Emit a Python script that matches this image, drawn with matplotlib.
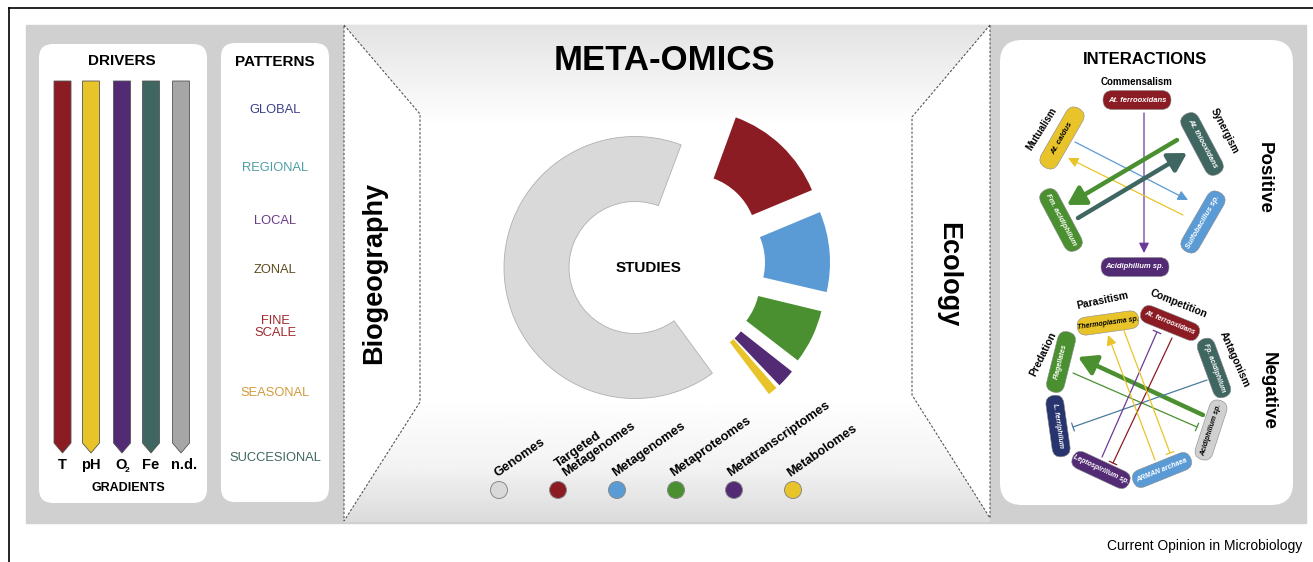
import numpy as np
import matplotlib
matplotlib.use('Agg')
import matplotlib.pyplot as plt
from matplotlib.patches import Rectangle, FancyBboxPatch, Polygon, Wedge, Circle, FancyArrowPatch
from matplotlib.transforms import Affine2D

plt.rcParams['font.family'] = ['Liberation Sans', 'DejaVu Sans']

### DATA
# meta-omics studies (share of studies, %)
omics = ['Genomes', 'Targeted\nMetagenomes', 'Metagenomes', 'Metaproteomes',
         'Metatranscriptomes', 'Metabolomes']
studies = [67.0, 13.4, 10.1, 6.8, 2.3, 1.2]
omicsColors = ['#d9d9d9', '#8b1c23', '#5b9bd5', '#4a9030', '#532a74', '#e8c42a']

drivers = ['T', 'pH', 'O', 'Fe', 'n.d.']
driverColors = ['#8b1c23', '#e8c42a', '#532a74', '#3f6660', '#a6a6a6']

patterns = ['GLOBAL', 'REGIONAL', 'LOCAL', 'ZONAL', 'FINE\nSCALE', 'SEASONAL', 'SUCCESIONAL']
patternColors = ['#3b3f8c', '#4f9ea5', '#6a3a8a', '#5c4a1a', '#a0282e', '#d39a3a', '#3f6660']

# interaction networks: node name, colour, text colour
posNodes = ['At. ferrooxidans', 'At. thiooxidans', 'Sulfobacillus sp.',
            'Acidiphilium sp.', 'Fm. acidiphilum', 'At. caldus']
posNodeColors = ['#8b1c23', '#3f6660', '#5b9bd5', '#532a74', '#4a9030', '#e8c42a']
posTextColors = ['white', 'white', 'white', 'white', 'white', 'black']
posLabels = ['Commensalism', 'Synergism', 'Mutualism']
# (source, target, colour, kind)
posEdges = [('At. ferrooxidans', 'Acidiphilium sp.', '#6a3a9a', 'arrow'),
            ('At. caldus', 'Sulfobacillus sp.', '#5b9bd5', 'arrow'),
            ('Sulfobacillus sp.', 'At. caldus', '#e8c42a', 'arrow'),
            ('At. thiooxidans', 'Fm. acidiphilum', '#4a9030', 'thick'),
            ('Fm. acidiphilum', 'At. thiooxidans', '#3f6660', 'thick')]

negNodes = ['Thermoplasma sp.', 'At. ferrooxidans', 'Fp. acidiphilum', 'Acidiphilium sp.',
            'ARMAN archaea', 'Leptospirillum sp.', 'L. ferriphilum', 'Flagellates']
negNodeColors = ['#e8c42a', '#8b1c23', '#3f6660', '#d0d0d0',
                 '#5b9bd5', '#532a74', '#27346e', '#4a9030']
negTextColors = ['black', 'white', 'white', 'black', 'white', 'white', 'white', 'white']
negLabels = ['Parasitism', 'Competition', 'Antagonism', 'Predation']
negEdges = [('Acidiphilium sp.', 'Flagellates', '#4a9030', 'thick'),
            ('Flagellates', 'Acidiphilium sp.', '#4a9030', 'bar'),
            ('Fp. acidiphilum', 'L. ferriphilum', '#4a7c9a', 'bar'),
            ('Leptospirillum sp.', 'At. ferrooxidans', '#6a3a9a', 'bar'),
            ('At. ferrooxidans', 'Leptospirillum sp.', '#8b1c23', 'bar'),
            ('ARMAN archaea', 'Thermoplasma sp.', '#e8c42a', 'arrow'),
            ('Thermoplasma sp.', 'ARMAN archaea', '#e8c42a', 'bar')]

### LAYOUT (pixel coordinates, y down)
donutCenter = (635, 267.5)
rIn, rOut = 66, 131
startAngle = 70          # first coloured wedge starts here, going clockwise
degPerUnit = 3.535
gapAfter = [1.0, 0.0, 0.5, 0.6, 2.4, 0.8]  # gap after each wedge
shift = [(0, 0), (56, 27), (64, 5), (59, -13), (54, -23), (55, -22)]
legendX = [499, 558, 617, 676, 734, 793]
labelDx = [-2, 7, -2, -3, -4, -3]

driverX = [62.5, 91, 122, 151, 181]
patternY = [110, 168, 221, 270, 327, 393, 458]

posXY = [(1137, 100), (1202, 144), (1203, 222), (1135, 267), (1061, 220), (1062, 138)]
posRot = [0, -62, 60, 0, -62, 60]
posLabelXY = [(1137, 82, 0), (1224, 131, -63), (1042, 129, 58)]
posEdgeXY = [((1144, 113), (1144, 253)), ((1075, 142), (1188, 200)),
             ((1183, 215), (1068, 158)), ((1177, 140), (1067, 205)),
             ((1078, 218), (1187, 153))]

negXY = [(1108, 323), (1170, 323), (1214, 368), (1211, 430),
         (1162, 470), (1101, 470), (1058, 426), (1061, 362)]
negRot = [8, -22, -70, 72, 22, -25, -82, 76]
negLabelXY = [(1102, 301, 12), (1179, 304, -22), (1235, 359, -66), (1043, 354, 64)]
negEdgeXY = [((1203, 415), (1078, 357)), ((1073, 373), (1197, 427)),
             ((1207, 380), (1073, 427)), ((1102, 457), (1157, 332)),
             ((1172, 338), (1113, 463)), ((1155, 460), (1108, 335)),
             ((1123, 328), (1170, 453))]

### FIGURE
fig = plt.figure(figsize=(13.13, 5.62), dpi=100)
ax = fig.add_axes([0, 0, 1, 1])
ax.set_xlim(0, 1313)
ax.set_ylim(562, 0)
ax.axis('off')

# frame lines
ax.plot([9, 9], [8, 562], color='black', lw=1.2)
ax.plot([9, 1313], [8, 8], color='black', lw=1.2)

# grey background
ax.add_patch(Rectangle((26, 25), 1280, 498, color='#d0d0d0', zorder=0))

def rbox(x0, y0, x1, y1, r=14):
    ax.add_patch(FancyBboxPatch((x0, y0), x1 - x0, y1 - y0,
                                boxstyle=f'round,pad=0,rounding_size={r}',
                                fc='white', ec='none', zorder=1))

rbox(39, 44, 207, 503)
rbox(221, 43, 329, 502)
rbox(1000, 40, 1293, 505, r=22)

# centre panel gradient
yy = np.linspace(25, 522, 200)
prof = np.interp(yy, [25, 60, 125, 400, 470, 522], [0.89, 0.93, 1.0, 1.0, 0.95, 0.86])
grad = np.repeat(prof[:, None], 2, axis=1)
ax.imshow(grad, extent=(344, 990, 522, 25), cmap='gray', vmin=0, vmax=1,
          aspect='auto', origin='upper', zorder=1, interpolation='bilinear')
ax.set_xlim(0, 1313)
ax.set_ylim(562, 0)

dash = (0, (2.2, 1.6))
ax.add_patch(Polygon([(344, 25), (420, 114), (420, 402), (344, 521)], closed=True,
                     fc='white', ec='#555555', lw=0.8, ls=dash, zorder=2))
ax.add_patch(Polygon([(990, 25), (912, 117), (912, 395), (990, 518)], closed=True,
                     fc='white', ec='#555555', lw=0.8, ls=dash, zorder=2))

ax.text(664, 60, 'META-OMICS', fontsize=25, fontweight='bold', ha='center', va='center', zorder=5)
ax.text(374, 273, 'Biogeography', fontsize=19.5, fontweight='bold', rotation=90,
        ha='center', va='center', zorder=5)
ax.text(948, 275, 'Ecology', fontsize=19.5, fontweight='bold', rotation=-90,
        ha='center', va='center', zorder=5)

# donut
order = [1, 2, 3, 4, 5, 0]
ang = startAngle
for i in order:
    span = studies[i] * degPerUnit
    a_hi, a_lo = ang, ang - span
    ang = a_lo - gapAfter[i]
    cx = donutCenter[0] + shift[i][0]
    cy = donutCenter[1] - shift[i][1]
    ec = '#b0b0b0' if i == 0 else 'none'
    ax.add_patch(Wedge((cx, cy), rOut, -a_hi, -a_lo, width=rOut - rIn,
                       fc=omicsColors[i], ec=ec, lw=0.6, zorder=3))
ax.text(649, 268, 'STUDIES', fontsize=11, fontweight='bold', ha='center', va='center', zorder=5)

# legend
for i, lab in enumerate(omics):
    ax.add_patch(Circle((legendX[i], 490), 8.5, fc=omicsColors[i], ec='#8a8a8a', lw=0.7, zorder=4))
    ax.text(legendX[i] + labelDx[i], 477, lab, fontsize=9.3, fontweight='bold', rotation=35,
            rotation_mode='anchor', ha='left', va='baseline', linespacing=1.0, zorder=5)

# drivers
ax.text(122, 61, 'DRIVERS', fontsize=11, fontweight='bold', ha='center', va='center', zorder=5)
for i, d in enumerate(drivers):
    x0, x1 = driverX[i] - 8.5, driverX[i] + 8.5
    ax.add_patch(Polygon([(x0, 81), (x1, 81), (x1, 443), (driverX[i], 453), (x0, 443)],
                         closed=True, fc=driverColors[i], ec='#555555', lw=0.6, zorder=3))
    lx = driverX[i] + (3 if d == 'n.d.' else 0)
    if d == 'O':
        ax.text(lx - 1, 465, d, fontsize=10.5, fontweight='bold', ha='center', va='center', zorder=5)
        ax.text(lx + 5.5, 470, '2', fontsize=6, fontweight='bold', ha='center', va='center', zorder=5)
    else:
        ax.text(lx, 465, d, fontsize=10.5, fontweight='bold', ha='center', va='center', zorder=5)
ax.text(128, 488, 'GRADIENTS', fontsize=9, fontweight='bold', ha='center', va='center', zorder=5)

# patterns
ax.text(275, 62, 'PATTERNS', fontsize=11, fontweight='bold', ha='center', va='center', zorder=5)
for i, p in enumerate(patterns):
    ax.text(275, patternY[i], p, fontsize=9.3, color=patternColors[i], ha='center',
            va='center', linespacing=1.1, zorder=5)

# interactions
ax.text(1145, 59, 'INTERACTIONS', fontsize=12, fontweight='bold', ha='center', va='center', zorder=5)
ax.text(1264, 178, 'Positive', fontsize=13.5, fontweight='bold', rotation=-90,
        ha='center', va='center', zorder=5)
ax.text(1268, 391, 'Negative', fontsize=13.5, fontweight='bold', rotation=-90,
        ha='center', va='center', zorder=5)

def pill(cx, cy, rot, w, h, fc, name, tc, fs):
    p = FancyBboxPatch((cx - w / 2, cy - h / 2), w, h,
                       boxstyle=f'round,pad=0,rounding_size={h / 2}',
                       fc=fc, ec='#888888', lw=0.4, zorder=4)
    p.set_transform(Affine2D().rotate_deg_around(cx, cy, -rot) + ax.transData)
    ax.add_patch(p)
    ax.text(cx, cy, name, fontsize=fs, fontweight='bold', style='italic', color=tc,
            rotation=rot, rotation_mode='anchor', ha='center', va='center', zorder=5)

def edge(p0, p1, col, kind):
    if kind == 'thick':
        st, lw, ms = '-|>,head_length=0.6,head_width=0.35', 3.2, 18
    elif kind == 'arrow':
        st, lw, ms = '-|>,head_length=0.5,head_width=0.25', 0.9, 12
    else:
        st, lw, ms = '-[,widthB=0.3,lengthB=0', 0.9, 10
    ax.add_patch(FancyArrowPatch(p0, p1, arrowstyle=st, color=col, lw=lw,
                                 mutation_scale=ms, shrinkA=0, shrinkB=0, zorder=6))

for i, n in enumerate(posNodes):
    pill(posXY[i][0], posXY[i][1], posRot[i], 68, 19, posNodeColors[i], n, posTextColors[i], 5.5)
for (x, y, r), lab in zip(posLabelXY, posLabels):
    ax.text(x, y, lab, fontsize=7, fontweight='bold', rotation=r, rotation_mode='anchor',
            ha='center', va='center', zorder=5)
for (s, t, c, k), (p0, p1) in zip(posEdges, posEdgeXY):
    edge(p0, p1, c, k)

for i, n in enumerate(negNodes):
    pill(negXY[i][0], negXY[i][1], negRot[i], 62, 18, negNodeColors[i], n, negTextColors[i], 5)
for (x, y, r), lab in zip(negLabelXY, negLabels):
    ax.text(x, y, lab, fontsize=7.5, fontweight='bold', rotation=r, rotation_mode='anchor',
            ha='center', va='center', zorder=5)
for (s, t, c, k), (p0, p1) in zip(negEdges, negEdgeXY):
    edge(p0, p1, c, k)

ax.text(1302, 546, 'Current Opinion in Microbiology', fontsize=10, ha='right', va='center')

fig.savefig('out.png', dpi=100)
